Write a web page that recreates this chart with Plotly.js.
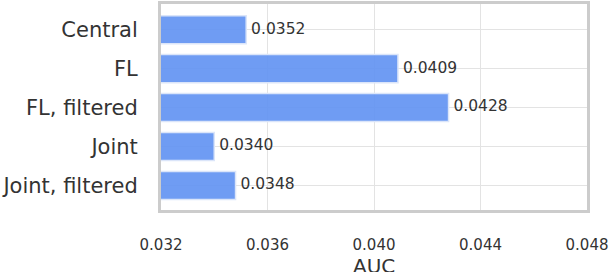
<!DOCTYPE html>
<html><head><meta charset="utf-8">
<script src="https://cdn.plot.ly/plotly-3.0.1.min.js"></script>
<style>html,body{margin:0;padding:0;background:#fff}#c{width:610px;height:272px}</style>
</head><body><div id="c"></div>
<script>
const categories = ["Central", "FL", "FL, filtered", "Joint", "Joint, filtered"];
const aucValues = [0.0352, 0.0409, 0.0428, 0.0340, 0.0348];
const aucLabels = ["0.0352", "0.0409", "0.0428", "0.0340", "0.0348"];
const xTicks = [0.032, 0.036, 0.040, 0.044, 0.048];
const xTickLabels = ["0.032", "0.036", "0.040", "0.044", "0.048"];

const idx = categories.map((_, i) => i);
const bars = {
  type: 'bar', orientation: 'h',
  y: idx, x: aucValues,
  width: 0.72,
  marker: {color: 'rgba(95,145,242,0.9)', line: {color: '#dbe5f9', width: 1.5}},
  hoverinfo: 'none'
};
const labels = {
  type: 'scatter', mode: 'text',
  y: idx, x: aucValues,
  text: aucLabels.map(t => ' ' + t), textposition: 'middle right', cliponaxis: false,
  textfont: {family: 'DejaVu Sans', size: 15.5, color: '#333333'},
  hoverinfo: 'none'
};
const layout = {
  width: 610, height: 272,
  margin: {l: 161, r: 23, t: 4, b: 62},
  paper_bgcolor: '#fff', plot_bgcolor: '#fff',
  showlegend: false,
  font: {family: 'DejaVu Sans', color: '#333333'},
  xaxis: {
    range: [0.032, 0.048], tickvals: xTicks, ticktext: xTickLabels,
    showgrid: true, gridcolor: '#e3e3e3', gridwidth: 1, zeroline: false,
    showline: true, mirror: true, linecolor: '#cccccc', linewidth: 3,
    ticks: '', ticklabelstandoff: 19,
    tickfont: {family: 'DejaVu Sans', size: 15, color: '#333333'}
  },
  yaxis: {
    range: [4.63, -0.66], tickvals: idx, ticktext: categories,
    showgrid: true, gridcolor: '#e3e3e3', gridwidth: 1, zeroline: false,
    showline: true, mirror: true, linecolor: '#cccccc', linewidth: 3,
    ticks: '', ticklabelstandoff: 16,
    tickfont: {family: 'DejaVu Sans', size: 21, color: '#333333'}
  },
  annotations: [{
    text: 'AUC', xref: 'paper', yref: 'paper', x: 0.5, y: 0,
    xanchor: 'center', yanchor: 'top', yshift: -42, showarrow: false,
    font: {family: 'DejaVu Sans', size: 20, color: '#333333'}
  }]
};
Plotly.newPlot('c', [bars, labels], layout, {displayModeBar: false, staticPlot: true});
</script></body></html>
